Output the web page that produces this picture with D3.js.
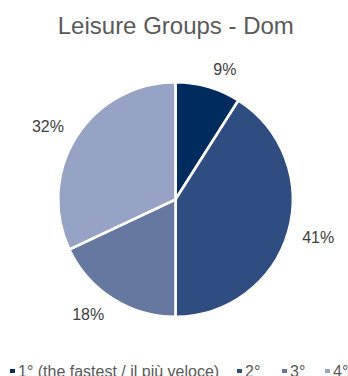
<!DOCTYPE html>
<html>
<head>
<meta charset="utf-8">
<script src="https://cdn.jsdelivr.net/npm/d3@7"></script>
<style>
  html, body { margin: 0; padding: 0; background: #ffffff; }
  svg { display: block; }
</style>
</head>
<body>
<svg id="chart" width="348" height="376"></svg>
<script>
// Finishing positions share for the leisure groups
const title = "Leisure Groups - Dom";
const categories = ["1° (the fastest / il più veloce)", "2°", "3°", "4°"];
const shares = [9, 41, 18, 32];
const colors = ["#002b5e", "#2f4d80", "#66789f", "#97a3c4"];

const svg = d3.select("#chart");
const W = 348, H = 376;
const cx = 175.5, cy = 199.5, R = 117.3;
const font = "'Liberation Sans', Arial, sans-serif";

svg.append("rect").attr("width", W).attr("height", H).attr("fill", "#fff");

svg.append("text")
  .attr("x", 175.8).attr("y", 34.3)
  .attr("text-anchor", "middle")
  .attr("font-family", font).attr("font-size", 24)
  .attr("fill", "#595959")
  .text(title);

const data = categories.map((c, i) => ({ cat: c, value: shares[i], color: colors[i] }));
const pie = d3.pie().value(d => d.value).sort(null);
const arcs = pie(data);
const arc = d3.arc().innerRadius(0).outerRadius(R);

const g = svg.append("g").attr("transform", `translate(${cx},${cy})`);
g.selectAll("path.slice").data(arcs).join("path")
  .attr("class", "slice")
  .attr("d", arc)
  .attr("fill", d => d.data.color)
  .attr("stroke", "#ffffff")
  .attr("stroke-width", 2.6)
  .attr("stroke-linejoin", "miter");

// Outside-end labels: anchor just beyond the rim, box pushed outward
const fmt = v => v + "%";
const capH = 11.5;
g.selectAll("text.lbl").data(arcs).join("text")
  .attr("class", "lbl")
  .attr("font-family", font).attr("font-size", 16)
  .attr("fill", "#404040")
  .attr("text-anchor", "middle")
  .text(d => fmt(d.data.value))
  .each(function(d) {
    const a = (d.startAngle + d.endAngle) / 2;
    const dx = Math.sin(a), dy = -Math.cos(a);
    const rr = R + 13;
    const w = this.getComputedTextLength();
    const x = dx * rr + Math.sign(dx) * (w / 2 + 1.5);
    const y = dy * rr + dy * capH / 2;
    d3.select(this).attr("x", x).attr("y", y + capH / 2);
  });

// Legend along the bottom edge
const legendX = [10, 237, 282, 325];
const leg = svg.append("g");
const items = leg.selectAll("g").data(data).join("g")
  .attr("transform", (d, i) => `translate(${legendX[i]},0)`);
items.append("rect")
  .attr("x", 0).attr("y", 369).attr("width", 5).attr("height", 4)
  .attr("fill", d => d.color);
items.append("text")
  .attr("x", 8).attr("y", 376.5)
  .attr("font-family", font).attr("font-size", 16)
  .attr("fill", "#595959")
  .text(d => d.cat);
</script>
</body>
</html>
